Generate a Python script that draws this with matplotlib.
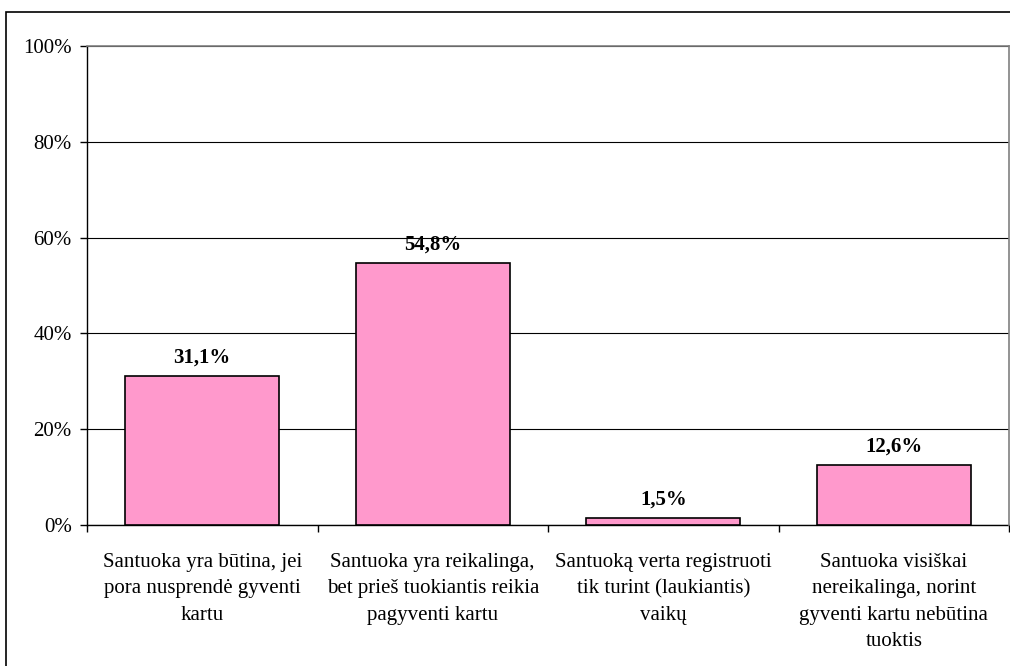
import matplotlib.pyplot as plt
from matplotlib.patches import Rectangle
from matplotlib.ticker import FixedLocator, PercentFormatter

CATEGORIES = [
    "Santuoka yra būtina, jei\npora nusprendė gyventi\nkartu",
    "Santuoka yra reikalinga,\nbet prieš tuokiantis reikia\npagyventi kartu",
    "Santuoką verta registruoti\ntik turint (laukiantis)\nvaikų",
    "Santuoka visiškai\nnereikalinga, norint\ngyventi kartu nebūtina\ntuoktis",
]
VALUES = [31.1, 54.8, 1.5, 12.6]
Y_TICKS = [0, 20, 40, 60, 80, 100]

BAR_COLOR = "#FF99CC"
FRAME_GREY = "#808080"

plt.rcParams["font.family"] = ["Liberation Serif", "DejaVu Serif"]

fig = plt.figure(figsize=(10.1, 6.66), dpi=100)
ax = fig.add_axes([87 / 1010, 1 - 525 / 666, (1009 - 87) / 1010, (525 - 46) / 666])

x = list(range(len(VALUES)))
ax.bar(x, VALUES, width=0.67, color=BAR_COLOR, edgecolor="black", linewidth=1.2, zorder=3)

for xi, v in zip(x, VALUES):
    label = f"{v:.1f}%".replace(".", ",")
    ax.annotate(label, (xi, v), xytext=(0, 6), textcoords="offset points",
                ha="center", va="bottom", fontsize=15, fontweight="bold")

ax.set_xlim(-0.5, len(VALUES) - 0.5)
ax.set_ylim(0, 100)
ax.set_yticks(Y_TICKS)
ax.yaxis.set_major_formatter(PercentFormatter(decimals=0))
ax.grid(axis="y", color="black", linewidth=0.8, zorder=0)

ax.set_xticks(x)
ax.set_xticklabels(CATEGORIES, fontsize=15, linespacing=1.54)
ax.xaxis.set_minor_locator(FixedLocator([i - 0.5 for i in range(len(VALUES) + 1)]))
ax.tick_params(axis="x", which="major", length=0, pad=20)
ax.tick_params(axis="x", which="minor", length=5, direction="out", width=1)
ax.tick_params(axis="y", length=5, direction="out", width=1, labelsize=15, pad=6)

# plot area: black axes on the left and bottom, grey border on top and right
ax.spines["left"].set_linewidth(1)
ax.spines["bottom"].set_linewidth(1)
for side in ("top", "right"):
    ax.spines[side].set_color(FRAME_GREY)
    ax.spines[side].set_linewidth(1.2)
    ax.spines[side].set_zorder(4)

# outer chart frame (bottom and right edges fall outside the picture)
fig.patches.append(Rectangle((5.5 / 1010, -0.05), 1.0, 1.05 - 12 / 666,
                             transform=fig.transFigure, fill=False,
                             edgecolor="black", linewidth=1.2))

fig.savefig("out.png", dpi=100)
